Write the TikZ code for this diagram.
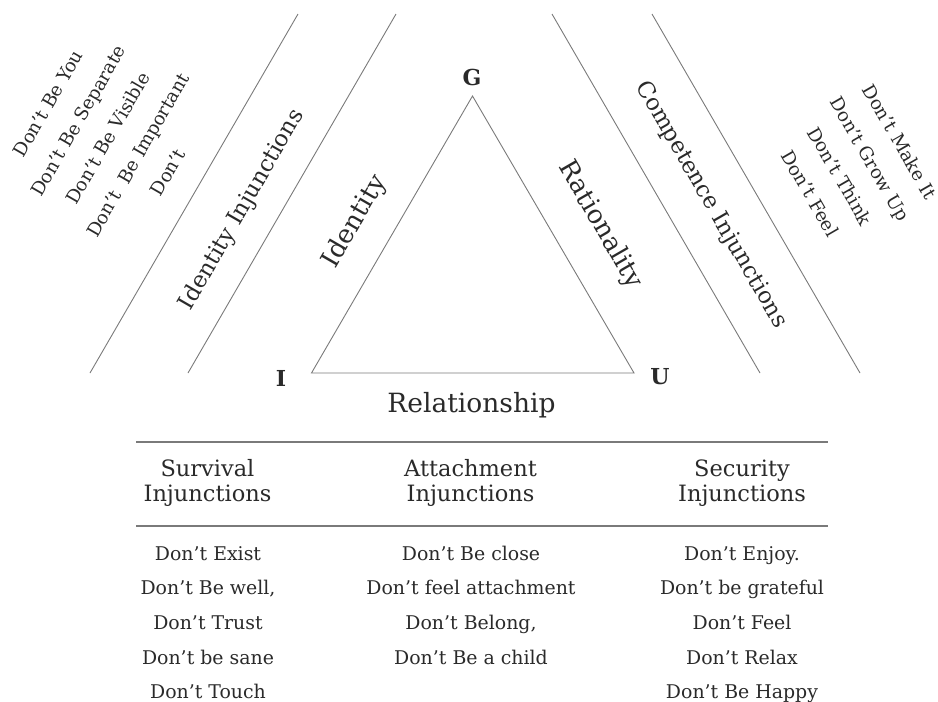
\documentclass[tikz,border=0pt]{standalone}
\usepackage{fontspec}
\setmainfont{DejaVu Serif}
\definecolor{ink}{HTML}{2A2A2A}
\definecolor{rule}{HTML}{7A7A7A}
\tikzset{
  thinline/.style={draw=rule, line width=0.9pt},
  tabline/.style={draw=rule, line width=1.3pt},
  vlabel/.style={text=ink, font=\bfseries\fontsize{22}{25}\selectfont, inner sep=0pt},
  sidelabel/.style={text=ink, font=\fontsize{25.8}{29}\selectfont, inner sep=0pt},
  rellabel/.style={text=ink, font=\fontsize{26.5}{29}\selectfont, inner sep=0pt},
  bandlabel/.style={text=ink, font=\fontsize{22.8}{26}\selectfont, inner sep=0pt},
  listtext/.style={text=ink, align=center, font=\fontsize{18.3}{34.5}\selectfont, inner sep=0pt},
  headtext/.style={text=ink, align=center, font=\fontsize{22.5}{25}\selectfont, inner sep=0pt},
  itemtext/.style={text=ink, anchor=base, font=\fontsize{18.9}{21}\selectfont, inner sep=0pt},
}
\begin{document}
\begin{tikzpicture}[x=1pt,y=-1pt]
\useasboundingbox (0,0) rectangle (938,702);
% band lines
\coordinate (la1) at (90,373);  \coordinate (la2) at (298,14);
\coordinate (lb1) at (188,373); \coordinate (lb2) at (396,14);
\coordinate (ra1) at (552,14);  \coordinate (ra2) at (760,373);
\coordinate (rb1) at (652,14);  \coordinate (rb2) at (860,373);
\draw[thinline] (la1) -- (la2);
\draw[thinline] (lb1) -- (lb2);
\draw[thinline] (ra1) -- (ra2);
\draw[thinline] (rb1) -- (rb2);
% triangle
\coordinate (g) at (472.5,96);
\coordinate (i) at (311.5,373);
\coordinate (u) at (634,373);
\draw[thinline, line join=miter] (g) -- (i) -- (u) -- cycle;
\node[vlabel] (gl) at (472,77) {G};
\node[vlabel] (il) at (281,378) {I};
\node[vlabel] (ul) at (660,377) {U};
\node[rellabel] (rel) at (471.5,405) {Relationship};
\node[sidelabel, rotate=60] (idn) at (355,222) {Identity};
\node[sidelabel, rotate=-60] (rat) at (600,225) {Rationality};
\node[bandlabel, rotate=60] (idinj) at (242,210) {Identity Injunctions};
\node[bandlabel, rotate=-60] (coinj) at (711,205) {Competence Injunctions};
% rotated lists
\node[listtext, rotate=60] (idlist) at (108,138)
  {Don’t Be You\\Don’t Be Separate\\Don’t Be Visible\\Don’t\ \ Be Important\\Don’t};
\node[listtext, rotate=-60] (colist) at (855,167.5)
  {Don’t Make It\\Don’t Grow Up\\Don’t Think\\Don’t Feel};
% table
\coordinate (t1l) at (136,442); \coordinate (t1r) at (828,442);
\coordinate (t2l) at (136,526); \coordinate (t2r) at (828,526);
\draw[tabline] (t1l) -- (t1r);
\draw[tabline] (t2l) -- (t2r);
\node[headtext] (h1) at (207.5,483) {Survival\\Injunctions};
\node[headtext] (h2) at (470.5,483) {Attachment\\Injunctions};
\node[headtext] (h3) at (742,483) {Security\\Injunctions};
\foreach \t [count=\k] in {Don’t Exist,{Don’t Be well,},Don’t Trust,Don’t be sane,Don’t Touch}
  \node[itemtext] (s\k) at (208,{560+34.7*(\k-1)}) {\t};
\foreach \t [count=\k] in {Don’t Be close,Don’t feel attachment,{Don’t Belong,},Don’t Be a child}
  \node[itemtext] (a\k) at (471,{560+34.7*(\k-1)}) {\t};
\foreach \t [count=\k] in {Don’t Enjoy.,Don’t be grateful,Don’t Feel,Don’t Relax,Don’t Be Happy}
  \node[itemtext] (c\k) at (742,{560+34.7*(\k-1)}) {\t};
\end{tikzpicture}
\end{document}
